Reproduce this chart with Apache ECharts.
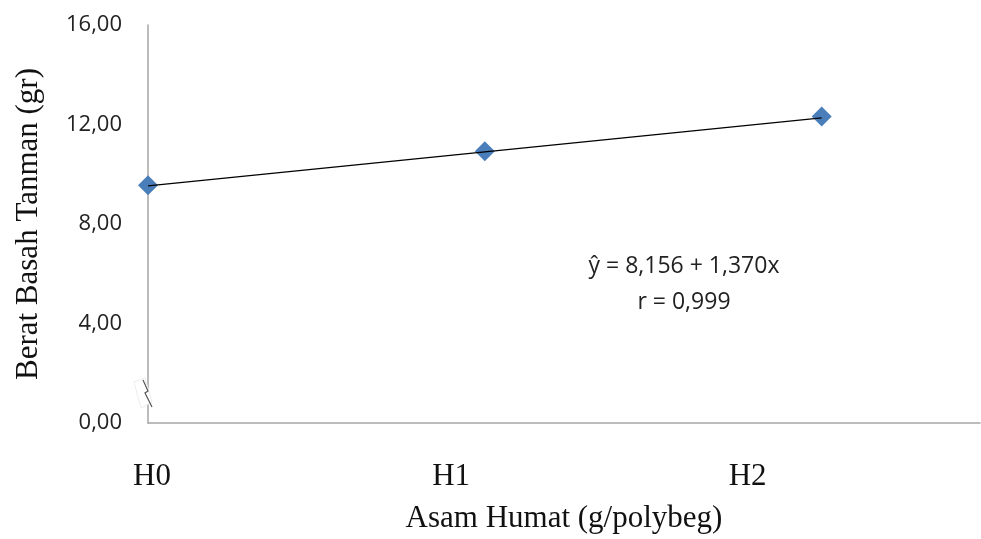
<!DOCTYPE html>
<html>
<head>
<meta charset="utf-8">
<script src="https://cdn.jsdelivr.net/npm/echarts@6/dist/echarts.min.js"></script>
<style>html,body{margin:0;padding:0;background:#fff}#c{width:981px;height:539px}</style>
</head>
<body>
<div id="c"></div>
<script>
// Data
var categories = ['H0', 'H1', 'H2'];
var xValues = [0, 1, 2];
var observed = [9.56, 10.92, 12.32];
var trend = [9.53, 10.90, 12.27];
var yTicks = [0, 4, 8, 12, 16];
var equationText = ['ŷ = 8,156 + 1,370x', 'r = 0,999'];
var yTitle = 'Berat Basah Tanman (gr)';
var xTitle = 'Asam Humat (g/polybeg)';

var chart = echarts.init(document.getElementById('c'), null, {renderer: 'canvas'});
var labelAt = [0.012, 0.90, 1.78];
var axisGrey = '#A6A6A6';
function fmt(v) { return v.toFixed(2).replace('.', ','); }

var option = {
  backgroundColor: '#fff',
  animation: false,
  grid: {left: 148, top: 25, right: 1, bottom: 114},
  xAxis: [{
    type: 'value', min: 0, max: 2.47,
    axisLine: {show: true, lineStyle: {color: axisGrey, width: 1.5}},
    axisTick: {show: false},
    splitLine: {show: false},
    axisLabel: {
      show: true,
      customValues: labelAt,
      margin: 38,
      fontFamily: 'Liberation Serif', fontSize: 31, color: '#111',
      formatter: function (v) {
        for (var i = 0; i < labelAt.length; i++) if (Math.abs(labelAt[i] - v) < 1e-6) return categories[i];
        return '';
      }
    },
    name: xTitle, nameLocation: 'middle', nameGap: 80,
    nameTextStyle: {fontFamily: 'Liberation Serif', fontSize: 31, color: '#111'}
  }],
  yAxis: [{
    type: 'value', min: yTicks[0], max: yTicks[yTicks.length - 1], interval: 4,
    axisLine: {show: true, lineStyle: {color: axisGrey, width: 1.5}},
    axisTick: {show: false},
    splitLine: {show: false},
    axisLabel: {margin: 26, fontFamily: 'Open Sans', fontSize: 22, color: '#222', formatter: fmt},
    name: yTitle, nameLocation: 'middle', nameGap: 104,
    nameTextStyle: {fontFamily: 'Liberation Serif', fontSize: 31, color: '#111'}
  }],
  series: [{
    type: 'line',
    data: xValues.map(function (x, i) { return [x, trend[i]]; }),
    symbol: 'none',
    lineStyle: {color: '#000', width: 1.2},
    z: 3
  }, {
    type: 'scatter',
    data: xValues.map(function (x, i) { return [x, observed[i]]; }),
    symbol: 'diamond',
    symbolSize: [20, 20],
    itemStyle: {color: '#4A7EBB', opacity: 1},
    z: 2
  }],
  graphic: [{
    type: 'text', x: 684, y: 266,
    style: {text: equationText[0], font: '23px "Open Sans"', fill: '#222', align: 'center', verticalAlign: 'middle'}
  }, {
    type: 'text', x: 684, y: 302,
    style: {text: equationText[1], font: '23px "Open Sans"', fill: '#222', align: 'center', verticalAlign: 'middle'}
  }, {
    type: 'polygon', shape: {points: [[134, 382], [145, 378], [152, 402], [141, 408]]},
    style: {fill: '#fff', stroke: '#EEEEEE', lineWidth: 1}, z: 100
  }, {
    type: 'polyline', shape: {points: [[143, 380], [148, 391], [145, 393], [152, 407]]},
    style: {stroke: '#555', lineWidth: 1.2, fill: null}, z: 101
  }]
};
chart.setOption(option);
</script>
</body>
</html>
